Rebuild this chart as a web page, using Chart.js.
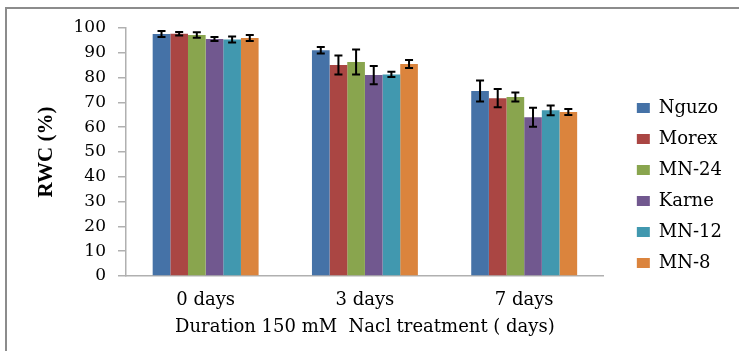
<!DOCTYPE html>
<html>
<head>
<meta charset="utf-8">
<script src="https://cdn.jsdelivr.net/npm/chart.js@4.4.1/dist/chart.umd.min.js"></script>
<style>
  html, body { margin: 0; padding: 0; background: #fff; }
  #wrap { width: 739px; height: 351px; }
</style>
</head>
<body>
<div id="wrap"><canvas id="chart"></canvas></div>
<script>
// data
const categories = ['0 days', '3 days', '7 days'];
const genotypes = ['Nguzo', 'Morex', 'MN-24', 'Karne', 'MN-12', 'MN-8'];

const nguzo = [97.6, 91.0, 74.6];
const morex = [97.7, 85.1, 71.7];
const mn24  = [97.2, 86.3, 72.2];
const karne = [95.6, 81.0, 64.0];
const mn12  = [95.4, 81.3, 66.8];
const mn8   = [96.0, 85.5, 66.1];

const nguzoErr = [1.2, 1.3, 4.2];
const morexErr = [0.7, 3.8, 3.7];
const mn24Err  = [1.1, 5.0, 1.8];
const karneErr = [0.8, 3.7, 3.8];
const mn12Err  = [1.2, 1.1, 2.0];
const mn8Err   = [1.2, 1.6, 1.2];

const yTicks = [0, 10, 20, 30, 40, 50, 60, 70, 80, 90, 100];

const colors = ['#4572A7', '#AA4643', '#89A54E', '#71588F', '#4198AF', '#DB843D'];
const values = [nguzo, morex, mn24, karne, mn12, mn8];
const errors = [nguzoErr, morexErr, mn24Err, karneErr, mn12Err, mn8Err];

const serif = 'DejaVu Serif';
const axisGray = '#b0b0b0';

// gray frame around the whole figure (open at right/bottom like the scan)
const frame = {
  id: 'frame',
  beforeDraw(chart) {
    const ctx = chart.ctx;
    ctx.save();
    ctx.fillStyle = '#fff';
    ctx.fillRect(0, 0, chart.width, chart.height);
    ctx.strokeStyle = '#8c8c8c';
    ctx.lineWidth = 2;
    ctx.beginPath();
    ctx.moveTo(6, chart.height);
    ctx.lineTo(6, 8);
    ctx.lineTo(chart.width, 8);
    ctx.stroke();
    ctx.restore();
  }
};

// error bars drawn from the y scale
const errorBars = {
  id: 'errorBars',
  afterDatasetsDraw(chart) {
    const ctx = chart.ctx;
    const yScale = chart.scales.y;
    ctx.save();
    ctx.strokeStyle = '#000';
    ctx.lineWidth = 2;
    chart.data.datasets.forEach((ds, i) => {
      const meta = chart.getDatasetMeta(i);
      meta.data.forEach((bar, j) => {
        const v = ds.data[j];
        const e = ds.errors[j];
        const top = yScale.getPixelForValue(v + e);
        const bot = yScale.getPixelForValue(v - e);
        ctx.beginPath();
        ctx.moveTo(bar.x, top); ctx.lineTo(bar.x, bot);
        ctx.moveTo(bar.x - 4, top); ctx.lineTo(bar.x + 4, top);
        ctx.moveTo(bar.x - 4, bot); ctx.lineTo(bar.x + 4, bot);
        ctx.stroke();
      });
    });
    ctx.restore();
  }
};

const datasets = genotypes.map((name, i) => ({
  label: name,
  data: values[i],
  errors: errors[i],
  backgroundColor: colors[i],
  borderWidth: 0,
  categoryPercentage: 0.665,
  barPercentage: 1.0
}));

new Chart(document.getElementById('chart'), {
  type: 'bar',
  data: { labels: categories, datasets: datasets },
  options: {
    responsive: true,
    maintainAspectRatio: false,
    animation: false,
    devicePixelRatio: 1,
    layout: { padding: { left: 20, top: 28, right: 7, bottom: 8 } },
    plugins: {
      legend: {
        position: 'right',
        align: 'center',
        labels: {
          boxWidth: 13,
          boxHeight: 10,
          padding: 13,
          color: '#000',
          font: { family: serif, size: 18 }
        }
      },
      tooltip: { enabled: false }
    },
    scales: {
      x: {
        grid: { display: false, drawTicks: false },
        border: { color: axisGray, width: 1.5 },
        ticks: { color: '#000', padding: 14, font: { family: serif, size: 18 } },
        title: {
          display: true,
          text: 'Duration 150 mM  Nacl treatment ( days)',
          color: '#000',
          font: { family: serif, size: 18 },
          padding: { top: 0, bottom: 5 }
        },
        afterFit(s) { s.height = 67; }
      },
      y: {
        min: 0,
        max: 100,
        afterBuildTicks(s) { s.ticks = yTicks.map(v => ({ value: v })); },
        grid: { drawOnChartArea: false, drawTicks: true, tickLength: 8, color: axisGray, lineWidth: 1.5 },
        border: { color: axisGray, width: 1.5 },
        ticks: { color: '#000', padding: 12, font: { family: serif, size: 17 } },
        title: {
          display: true,
          text: 'RWC (%)',
          color: '#000',
          font: { family: 'Liberation Serif', size: 21, weight: 'bold' },
          padding: { top: 14, bottom: 0 }
        },
        afterFit(s) { s.width = 106; }
      },
      gap: {
        type: 'linear',
        axis: 'y',
        position: 'right',
        display: true,
        grid: { display: false, drawTicks: false },
        border: { display: false },
        ticks: { display: false },
        afterFit(s) { s.width = 20; }
      }
    }
  },
  plugins: [frame, errorBars]
});
</script>
</body>
</html>
